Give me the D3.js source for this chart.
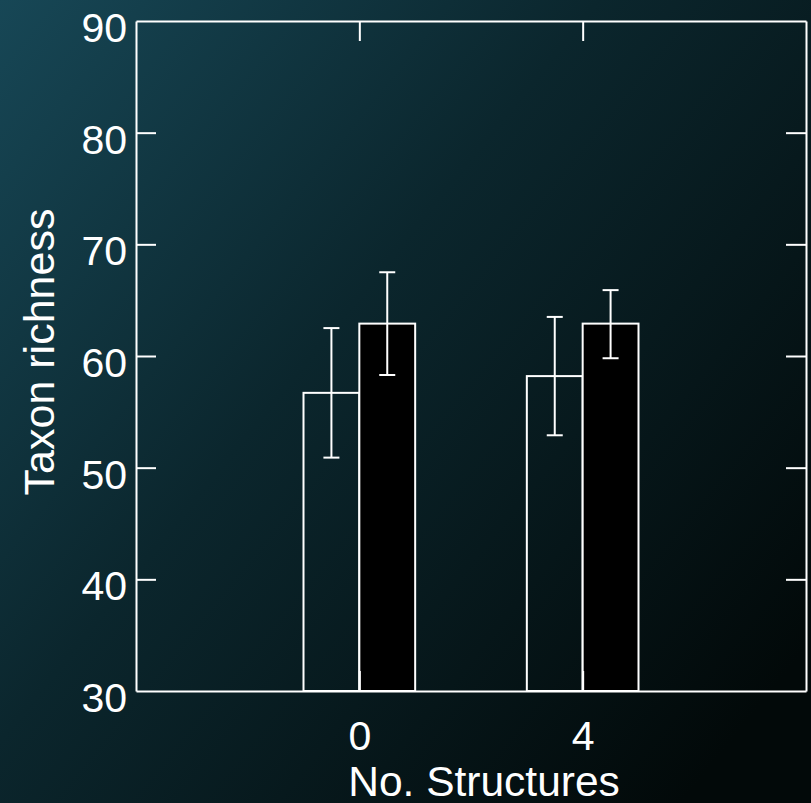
<!DOCTYPE html>
<html>
<head>
<meta charset="utf-8">
<script src="https://cdn.jsdelivr.net/npm/d3@7"></script>
<style>
  html, body { margin: 0; padding: 0; background: #000; }
  text { font-family: "Liberation Sans", Arial, sans-serif; fill: #fff; }
</style>
</head>
<body>
<div id="chart"></div>
<script>
// data
const categories = ["0", "4"];
const seriesNames = ["open", "filled"];
const openMeans = [56.7, 58.2];
const openErr = [[50.9, 62.5], [52.9, 63.5]];
const filledMeans = [62.9, 62.9];
const filledErr = [[58.3, 67.5], [59.8, 65.9]];
const yTicks = [30, 40, 50, 60, 70, 80, 90];

const W = 811, H = 803;
const margin = { top: 21, right: 5, bottom: 112, left: 136 };
const width = W - margin.left - margin.right;
const height = H - margin.top - margin.bottom;

const svg = d3.select("#chart").append("svg")
  .attr("width", W).attr("height", H);

const grad = svg.append("defs").append("linearGradient")
  .attr("id", "bg").attr("x1", 0).attr("y1", 0).attr("x2", 1).attr("y2", 0.8);
grad.append("stop").attr("offset", 0).attr("stop-color", "#174756");
grad.append("stop").attr("offset", 0.45).attr("stop-color", "#0b262d");
grad.append("stop").attr("offset", 1).attr("stop-color", "#020909");
svg.append("rect").attr("width", W).attr("height", H).attr("fill", "url(#bg)");

const g = svg.append("g").attr("transform", `translate(${margin.left},${margin.top})`);

const x = d3.scalePoint().domain(categories).range([0, width]).padding(1);
const x1 = d3.scaleBand().domain(seriesNames).range([-x.step() / 4, x.step() / 4]);
const y = d3.scaleLinear().domain([30, 90]).range([height, 0]);

const rows = [];
categories.forEach((c, i) => {
  rows.push({ cat: c, s: "open", v: openMeans[i], e: openErr[i] });
  rows.push({ cat: c, s: "filled", v: filledMeans[i], e: filledErr[i] });
});

// bars
g.selectAll("rect.bar").data(rows).join("rect")
  .attr("class", "bar")
  .attr("x", d => x(d.cat) + x1(d.s))
  .attr("y", d => y(d.v))
  .attr("width", x1.bandwidth())
  .attr("height", d => height - y(d.v))
  .attr("fill", d => d.s === "open" ? "none" : "#000")
  .attr("stroke", "#fff").attr("stroke-width", 2);

// error bars
const cap = 8;
const eb = g.selectAll("g.err").data(rows).join("g").attr("class", "err")
  .attr("transform", d => `translate(${x(d.cat) + x1(d.s) + x1.bandwidth() / 2},0)`);
eb.append("line").attr("y1", d => y(d.e[0])).attr("y2", d => y(d.e[1]));
eb.append("line").attr("x1", -cap).attr("x2", cap).attr("y1", d => y(d.e[0])).attr("y2", d => y(d.e[0]));
eb.append("line").attr("x1", -cap).attr("x2", cap).attr("y1", d => y(d.e[1])).attr("y2", d => y(d.e[1]));
eb.selectAll("line").attr("stroke", "#fff").attr("stroke-width", 2);

// axes: inward ticks on all four sides
const axLeft = g.append("g").call(d3.axisLeft(y).tickValues(yTicks).tickSizeInner(-20).tickSizeOuter(0).tickPadding(9));
const axRight = g.append("g").attr("transform", `translate(${width},0)`)
  .call(d3.axisRight(y).tickValues(yTicks).tickSizeInner(-20).tickSizeOuter(0).tickFormat(""));
const axTop = g.append("g").call(d3.axisTop(x).tickSizeInner(-20).tickSizeOuter(0).tickFormat(""));
const axBottom = g.append("g").attr("transform", `translate(0,${height})`)
  .call(d3.axisBottom(x).tickSizeInner(-20).tickSizeOuter(0).tickPadding(30));

[axLeft, axRight, axTop, axBottom].forEach(a => {
  a.selectAll("path, line").attr("stroke", "#fff").attr("stroke-width", 2);
  a.selectAll("text").attr("fill", "#fff").style("font-size", "41px")
    .style("font-family", "'Liberation Sans', Arial, sans-serif");
});
axLeft.selectAll(".tick text").attr("dy", "0.5em");
// corner tick marks coincide with the frame
axRight.selectAll(".tick").filter(d => d === 30 || d === 90).remove();
axLeft.selectAll(".tick line").filter(d => d === 30 || d === 90).remove();

g.append("text")
  .attr("x", width / 2 + 13).attr("y", height + 105)
  .attr("text-anchor", "middle").style("font-size", "42.5px")
  .text("No. Structures");

g.append("text")
  .attr("transform", "rotate(-90)")
  .attr("x", -height / 2 + 4).attr("y", -82)
  .attr("text-anchor", "middle").style("font-size", "43px")
  .text("Taxon richness");
</script>
</body>
</html>
